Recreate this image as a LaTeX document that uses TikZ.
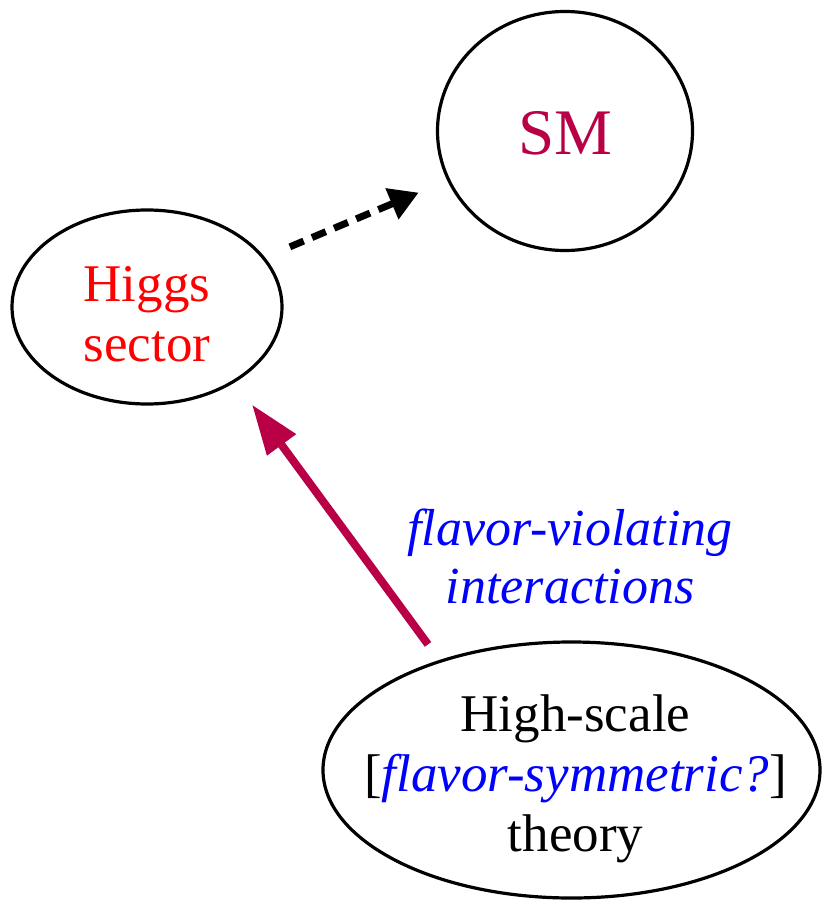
\documentclass[tikz,border=0pt]{standalone}
\usepackage{fontspec}
\setmainfont{Liberation Serif}
\usetikzlibrary{shapes.geometric,arrows.meta}

\definecolor{smred}{RGB}{185,0,70}

\tikzstyle{blob} = [ellipse, draw = black, line width = 3.2pt, inner sep = 0pt]
\tikzstyle{big} = [font = \fontsize{53}{60}\selectfont, align = center]
\tikzstyle{dasharrow} = [line width = 7pt, dash pattern = on 15pt off 9pt, -{Triangle[length = 29pt, width = 32pt]}]
\tikzstyle{flowarrow} = [line width = 8pt, smred, -{Triangle[length = 50pt, width = 34pt]}]

\begin{document}
\begin{tikzpicture}[x = 1pt, y = -1pt]
        \useasboundingbox (0,0) rectangle (821,901);

        \node [blob, minimum width = 255pt, minimum height = 239pt,
               label = {[font = \fontsize{65}{70}\selectfont, text = smred, yshift = -2pt]center:SM}] (sm) at (565,131) {};
        \node [blob, minimum width = 270pt, minimum height = 194pt,
               label = {[big, text = red, yshift = -7pt]center:Higgs\\sector}] (higgs) at (147,307) {};
        \node [blob, minimum width = 497pt, minimum height = 256pt,
               label = {[big, xshift = 4pt, yshift = -9pt]center:High-scale\\{}[\textcolor{blue}{\itshape flavor-symmetric?}]\\theory}] (high) at (571.5,770) {};

        \node [big, text = blue, font = \fontsize{52}{58}\selectfont\itshape] (fv) at (570,556) {flavor-violating\\interactions};

        \draw [dasharrow, shorten < = 27pt, shorten > = 31pt] (higgs) -- (sm);

        \coordinate (fvtail) at ([xshift = -143.5pt, yshift = -4pt] high.north);
        \coordinate (fvtip) at ([xshift = 105pt, yshift = 1pt] higgs.south);
        \draw [flowarrow] (fvtail) -- (fvtip);
\end{tikzpicture}
\end{document}
